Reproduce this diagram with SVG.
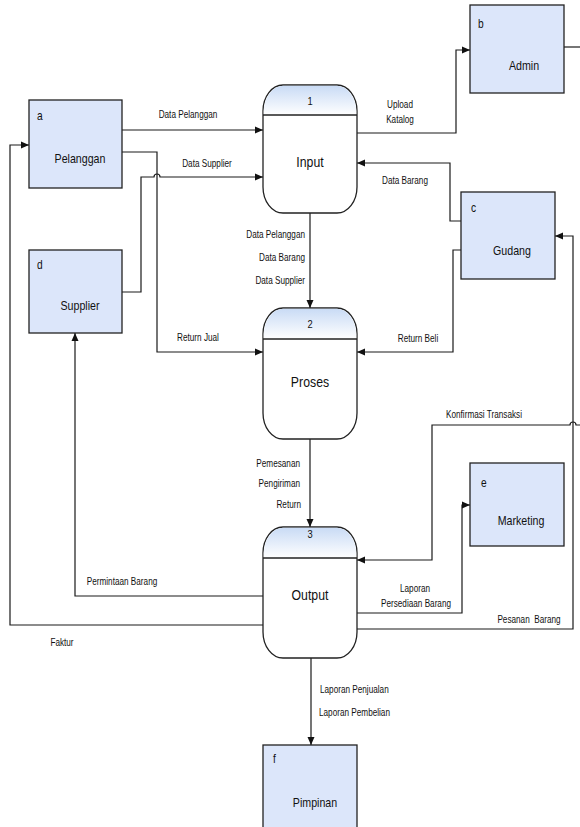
<svg xmlns="http://www.w3.org/2000/svg" width="580" height="827" viewBox="0 0 580 827">
  <defs>
    <linearGradient id="hdr" x1="0" y1="0" x2="0" y2="1">
      <stop offset="0" stop-color="#c9dbf5"/>
      <stop offset="1" stop-color="#ffffff"/>
    </linearGradient>
    <marker id="arrow" markerUnits="userSpaceOnUse" markerWidth="8" markerHeight="8" refX="8" refY="4" orient="auto">
      <path d="M0,0.5 L8,4 L0,7.5 z" fill="#111"/>
    </marker>
    <style>
      text { font-family: "Liberation Sans", Arial, sans-serif; fill: #111; }
      .lbl { font-size: 10px; }
      .mid { text-anchor: middle; }
      .end { text-anchor: end; }
      .ent rect { fill: #dce6fa; stroke: #222; stroke-width: 1.3; }
      .ent .id { font-size: 12px; }
      .ent .name { font-size: 13px; text-anchor: middle; }
      .proc .body { fill: #ffffff; stroke: #222; stroke-width: 1.3; }
      .proc .head { fill: url(#hdr); }
      .proc .sep { stroke: #222; stroke-width: 1.3; }
      .proc .num { font-size: 11px; text-anchor: middle; }
      .proc .name { font-size: 15px; text-anchor: middle; }
      .flow path { fill: none; stroke: #1a1a1a; stroke-width: 1.2; }
      .flow path.arr { marker-end: url(#arrow); }
    </style>
  </defs>

  <!-- connectors (labels use a narrowed sans, scaled horizontally) -->
  <g id="connectors" class="flow">
    <path class="arr" d="M122,130 H263"/>
    <path class="arr" d="M122,152 H157 V352 H263"/>
    <path class="arr" d="M122,292 H141 V177 H154 A3,3 0 0 1 160,177 H263"/>
    <path class="arr" d="M357,133 H456 V50 H470"/>
    <path d="M564,47 H580"/>
    <path class="arr" d="M461,221 H450 V163 H357"/>
    <path class="arr" d="M461,250 H453 V352 H357"/>
    <path class="arr" d="M310,213 V308"/>
    <path class="arr" d="M310,439 V527"/>
    <path class="arr" d="M311,658 V745"/>
    <path class="arr" d="M357,629 H573 V236 H555"/>
    <path class="arr" d="M580,425 H576 A3,3 0 0 0 570,425 H432 V560 H357"/>
    <path class="arr" d="M357,613 H462 V505 H470"/>
    <path class="arr" d="M263,596 H75 V333"/>
    <path class="arr" d="M263,625 H10 V145 H29"/>

    <text class="lbl mid" transform="translate(188,118) scale(.82,1)">Data Pelanggan</text>
    <text class="lbl mid" transform="translate(207,167) scale(.82,1)">Data Supplier</text>
    <text class="lbl mid" transform="translate(400,108) scale(.82,1)">Upload</text>
    <text class="lbl mid" transform="translate(400,123) scale(.82,1)">Katalog</text>
    <text class="lbl mid" transform="translate(405,184) scale(.82,1)">Data Barang</text>
    <text class="lbl mid" transform="translate(198,341) scale(.82,1)">Return Jual</text>
    <text class="lbl end" transform="translate(305,238) scale(.82,1)">Data Pelanggan</text>
    <text class="lbl end" transform="translate(305,261) scale(.82,1)">Data Barang</text>
    <text class="lbl end" transform="translate(305,284) scale(.82,1)">Data Supplier</text>
    <text class="lbl mid" transform="translate(418,342) scale(.82,1)">Return Beli</text>
    <text class="lbl end" transform="translate(300,467) scale(.82,1)">Pemesanan</text>
    <text class="lbl end" transform="translate(300,487) scale(.82,1)">Pengiriman</text>
    <text class="lbl end" transform="translate(301,508) scale(.82,1)">Return</text>
    <text class="lbl mid" transform="translate(122,585) scale(.82,1)">Permintaan Barang</text>
    <text class="lbl mid" transform="translate(62,646) scale(.82,1)">Faktur</text>
    <text class="lbl mid" transform="translate(484,418) scale(.82,1)">Konfirmasi Transaksi</text>
    <text class="lbl mid" transform="translate(415,592) scale(.82,1)">Laporan</text>
    <text class="lbl mid" transform="translate(416,607) scale(.82,1)">Persediaan Barang</text>
    <text class="lbl mid" transform="translate(529,623) scale(.82,1)" xml:space="preserve">Pesanan  Barang</text>
    <text class="lbl" transform="translate(320,693) scale(.82,1)">Laporan Penjualan</text>
    <text class="lbl" transform="translate(319,716) scale(.82,1)">Laporan Pembelian</text>
  </g>

  <!-- external entities -->
  <g id="pelanggan" class="ent">
    <rect x="29" y="100" width="93" height="88"/>
    <text class="id" transform="translate(37,120) scale(.85,1)">a</text>
    <text class="name" transform="translate(80,163) scale(.82,1)">Pelanggan</text>
  </g>
  <g id="admin" class="ent">
    <rect x="470" y="5" width="94" height="88"/>
    <text class="id" transform="translate(478,28) scale(.85,1)">b</text>
    <text class="name" transform="translate(524,70) scale(.82,1)">Admin</text>
  </g>
  <g id="gudang" class="ent">
    <rect x="461" y="192" width="94" height="87"/>
    <text class="id" transform="translate(471,212) scale(.85,1)">c</text>
    <text class="name" transform="translate(512,255) scale(.82,1)">Gudang</text>
  </g>
  <g id="supplier" class="ent">
    <rect x="29" y="250" width="93" height="83"/>
    <text class="id" transform="translate(37,269) scale(.85,1)">d</text>
    <text class="name" transform="translate(80,310) scale(.82,1)">Supplier</text>
  </g>
  <g id="marketing" class="ent">
    <rect x="470" y="463" width="94" height="83"/>
    <text class="id" transform="translate(481,487) scale(.85,1)">e</text>
    <text class="name" transform="translate(521,525) scale(.82,1)">Marketing</text>
  </g>
  <g id="pimpinan" class="ent">
    <rect x="263" y="745" width="94" height="90"/>
    <text class="id" transform="translate(273,763) scale(.85,1)">f</text>
    <text class="name" transform="translate(315,807) scale(.82,1)">Pimpinan</text>
  </g>

  <!-- processes -->
  <g id="p1" class="proc">
    <path class="body" d="M263,111 V187 A20,26 0 0 0 283,213 H337 A20,26 0 0 0 357,187 V111 A20,26 0 0 0 337,85 H283 A20,26 0 0 0 263,111 Z"/>
    <path class="head" d="M263.7,115 V111 A20,26 0 0 1 283,85.7 H337 A20,26 0 0 1 356.3,111 V115 Z"/>
    <path class="sep" d="M263,115 H357"/>
    <text class="num" transform="translate(310,105) scale(.85,1)">1</text>
    <text class="name" transform="translate(310,167) scale(.82,1)">Input</text>
  </g>
  <g id="p2" class="proc">
    <path class="body" d="M263,334 V413 A20,26 0 0 0 283,439 H337 A20,26 0 0 0 357,413 V334 A20,26 0 0 0 337,308 H283 A20,26 0 0 0 263,334 Z"/>
    <path class="head" d="M263.7,339 V334 A20,26 0 0 1 283,308.7 H337 A20,26 0 0 1 356.3,334 V339 Z"/>
    <path class="sep" d="M263,339 H357"/>
    <text class="num" transform="translate(310,328) scale(.85,1)">2</text>
    <text class="name" transform="translate(310,387) scale(.82,1)">Proses</text>
  </g>
  <g id="p3" class="proc">
    <path class="body" d="M263,553 V632 A20,26 0 0 0 283,658 H337 A20,26 0 0 0 357,632 V553 A20,26 0 0 0 337,527 H283 A20,26 0 0 0 263,553 Z"/>
    <path class="head" d="M263.7,558 V553 A20,26 0 0 1 283,527.7 H337 A20,26 0 0 1 356.3,553 V558 Z"/>
    <path class="sep" d="M263,558 H357"/>
    <text class="num" transform="translate(310,538) scale(.85,1)">3</text>
    <text class="name" transform="translate(310,600) scale(.82,1)">Output</text>
  </g>
</svg>
